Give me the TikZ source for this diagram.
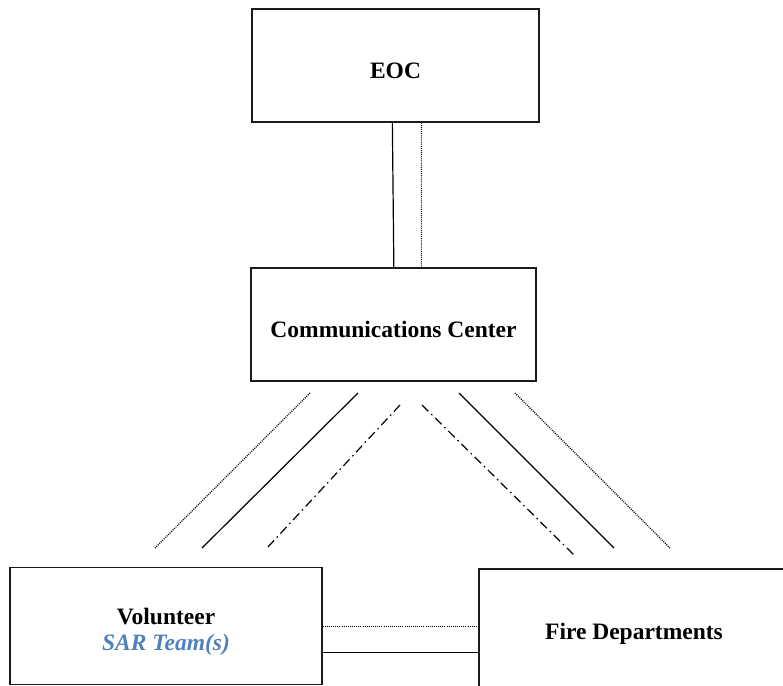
\documentclass[tikz,border=0pt]{standalone}
\usepackage{fontspec}
\setmainfont{Liberation Serif}
\usetikzlibrary{calc}
\definecolor{sarblue}{HTML}{4F81BD}
\definecolor{edge}{HTML}{1A1A1A}
\newcommand{\lowertext}[2]{\raisebox{-#1}[\height][\depth]{#2}}
\begin{document}
\begin{tikzpicture}[x=1bp,y=-1bp,
  box/.style={draw=edge, line width=1.3bp, fill=white, inner sep=0pt, align=center,
    font=\fontsize{23.5bp}{26bp}\selectfont\bfseries},
  solidln/.style={draw=black, line width=1.2bp},
  dotln/.style={draw=black, line width=1.1bp, dash pattern=on 1bp off 1.1bp},
  dashdotln/.style={draw=black, line width=1.2bp, dash pattern=on 9bp off 4bp on 1.5bp off 4bp}]
\useasboundingbox (0,0) rectangle (783,686);
\begin{scope}
\clip (0,0) rectangle (783,686);
\node[box, minimum width=287bp, minimum height=113bp] (eoc) at (395.5,65.5) {\lowertext{5.5bp}{EOC}};
\node[box, minimum width=285bp, minimum height=113bp] (comm) at (393.5,324.5) {\lowertext{4.5bp}{Communications Center}};
\node[box, minimum width=312bp, minimum height=117bp] (vol) at (166,626) {\lowertext{5.5bp}{Volunteer}\\\lowertext{5.5bp}{\textcolor{sarblue}{\itshape SAR Team(s)}}};
\node[box, minimum width=310bp, minimum height=124bp] (fire) at (634,631) {\lowertext{2.5bp}{Fire Departments}};
% EOC -- Communications Center
\draw[solidln] ([xshift=141bp]eoc.south west) -- ([xshift=143.5bp]comm.north west);
\draw[dotln] ([xshift=170bp]eoc.south west) -- ([xshift=171bp]comm.north west);
% Volunteer -- Fire Departments
\draw[dotln] ([yshift=-0.7bp]vol.east) -- ([yshift=-0.7bp]vol.east -| fire.west);
\draw[solidln] ([yshift=-26.7bp]vol.east) -- ([yshift=-26.7bp]vol.east -| fire.west);
% diagonal links
\coordinate (l1a) at (310,393); \coordinate (l1b) at (155,548);
\coordinate (l2a) at (358,393); \coordinate (l2b) at (202,548);
\coordinate (l3a) at (400,405); \coordinate (l3b) at (267,548);
\coordinate (r3a) at (422,405); \coordinate (r3b) at (575,556);
\coordinate (r2a) at (459,393); \coordinate (r2b) at (614,548);
\coordinate (r1a) at (515,393); \coordinate (r1b) at (670,548);
\draw[dotln] (l1a) -- (l1b);
\draw[solidln] (l2a) -- (l2b);
\draw[dashdotln] (l3a) -- (l3b);
\draw[dashdotln] (r3a) -- (r3b);
\draw[solidln] (r2a) -- (r2b);
\draw[dotln] (r1a) -- (r1b);
\end{scope}
\end{tikzpicture}
\end{document}
